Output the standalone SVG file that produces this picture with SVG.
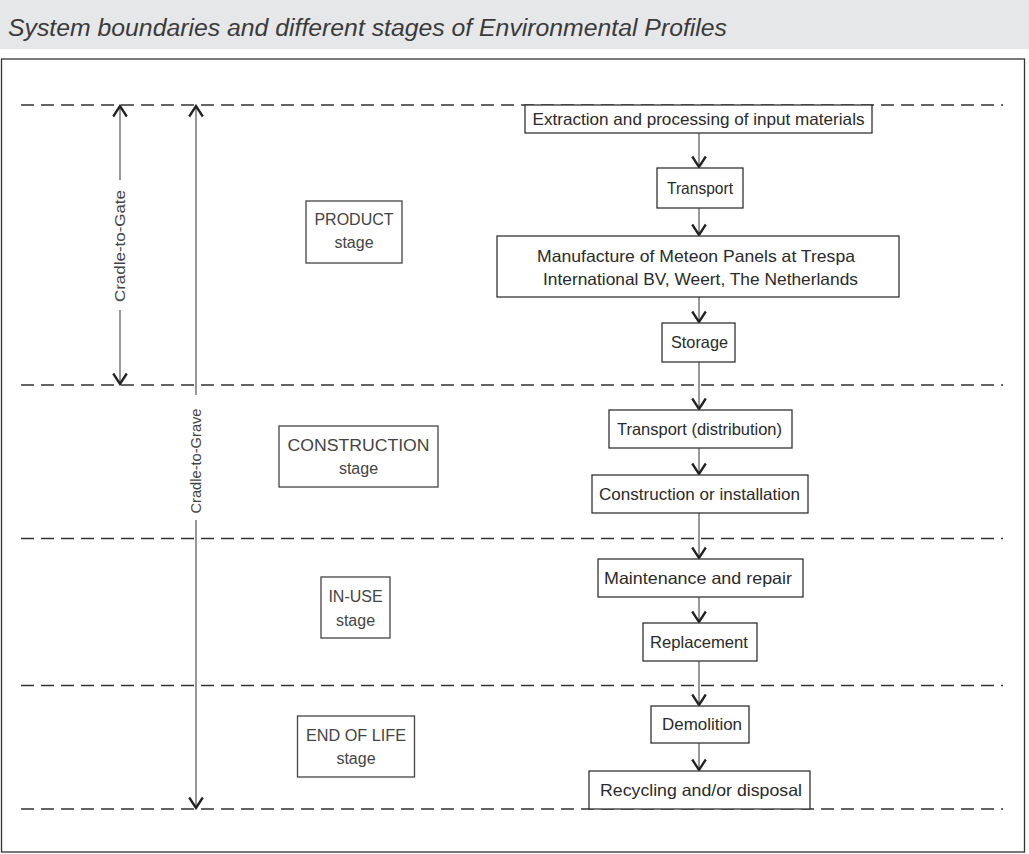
<svg xmlns="http://www.w3.org/2000/svg" width="1029" height="854" viewBox="0 0 1029 854">
<style>
.box{fill:#fff;stroke:#333;stroke-width:1.3}
.stg{fill:#fff;stroke:#444;stroke-width:1.3}
.t{font-family:"Liberation Sans",Arial,sans-serif;font-size:16.5px;fill:#2a2a2a;text-anchor:middle}
.st{font-family:"Liberation Sans",Arial,sans-serif;font-size:16px;fill:#444;text-anchor:middle}
.dash{stroke:#333;stroke-width:1.3;stroke-dasharray:13 7;fill:none}
.conn{stroke:#444;stroke-width:1.1;fill:none}
.side{font-family:"Liberation Sans",Arial,sans-serif;font-size:14.5px;fill:#444;text-anchor:middle}
</style>
<defs>
<marker id="ah" viewBox="-12 -8 14 16" refX="0" refY="0" markerWidth="14" markerHeight="16" markerUnits="userSpaceOnUse" orient="auto-start-reverse">
<path d="M-10.5,-6.8 L0,0 L-10.5,6.8" fill="none" stroke="#222" stroke-width="2.3"/>
</marker>
</defs>
<rect x="0" y="0" width="1029" height="49" fill="#e6e7e8"/>
<text x="8" y="36" font-family="'Liberation Sans',Arial,sans-serif" font-style="italic" font-size="23" fill="#3a3a3a" textLength="719" lengthAdjust="spacingAndGlyphs">System boundaries and different stages of Environmental Profiles</text>
<rect x="1.5" y="59" width="1023" height="793" fill="#fff" stroke="#333" stroke-width="1.3"/>
<g id="boundaries">
<line class="dash" x1="21" y1="105" x2="1003" y2="105"/>
<line class="dash" x1="21" y1="385" x2="1003" y2="385"/>
<line class="dash" x1="21" y1="538.5" x2="1003" y2="538.5"/>
<line class="dash" x1="21" y1="685.5" x2="1003" y2="685.5"/>
<line class="dash" x1="21" y1="809" x2="1003" y2="809"/>
</g>
<g id="cradle-to-gate">
<line class="conn" x1="120" y1="180" x2="120" y2="106" marker-end="url(#ah)"/>
<line class="conn" x1="120" y1="310" x2="120" y2="384" marker-end="url(#ah)"/>
<text class="side" transform="translate(125,246) rotate(-90)" textLength="112" lengthAdjust="spacingAndGlyphs">Cradle-to-Gate</text>
</g>
<g id="cradle-to-grave">
<line class="conn" x1="196" y1="395" x2="196" y2="106" marker-end="url(#ah)"/>
<line class="conn" x1="196" y1="520" x2="196" y2="808" marker-end="url(#ah)"/>
<text class="side" transform="translate(201,461) rotate(-90)" textLength="105" lengthAdjust="spacingAndGlyphs">Cradle-to-Grave</text>
</g>
<g id="connectors">
<line class="conn" x1="699" y1="133" x2="699" y2="167" marker-end="url(#ah)"/>
<line class="conn" x1="699" y1="208" x2="699" y2="235" marker-end="url(#ah)"/>
<line class="conn" x1="699" y1="297" x2="699" y2="322" marker-end="url(#ah)"/>
<line class="conn" x1="699" y1="362" x2="699" y2="409" marker-end="url(#ah)"/>
<line class="conn" x1="699" y1="448" x2="699" y2="474" marker-end="url(#ah)"/>
<line class="conn" x1="699" y1="513" x2="699" y2="558" marker-end="url(#ah)"/>
<line class="conn" x1="699" y1="597" x2="699" y2="622" marker-end="url(#ah)"/>
<line class="conn" x1="699" y1="661" x2="699" y2="705" marker-end="url(#ah)"/>
<line class="conn" x1="699" y1="743" x2="699" y2="770" marker-end="url(#ah)"/>
</g>
<g id="stage-product">
<rect class="stg" x="306" y="201" width="96" height="62"/>
<text class="st" x="354" y="225">PRODUCT</text>
<text class="st" x="354" y="248">stage</text>
</g>
<g id="stage-construction">
<rect class="stg" x="279" y="426" width="159" height="61"/>
<text class="st" x="358.5" y="451" textLength="142" lengthAdjust="spacingAndGlyphs">CONSTRUCTION</text>
<text class="st" x="358.5" y="474">stage</text>
</g>
<g id="stage-inuse">
<rect class="stg" x="321" y="577" width="69" height="61"/>
<text class="st" x="355.5" y="602">IN-USE</text>
<text class="st" x="355.5" y="626">stage</text>
</g>
<g id="stage-eol">
<rect class="stg" x="297.5" y="716" width="117" height="61"/>
<text class="st" x="356" y="741" textLength="100" lengthAdjust="spacingAndGlyphs">END OF LIFE</text>
<text class="st" x="356" y="764">stage</text>
</g>
<g id="extraction">
<rect class="box" x="525" y="105" width="347" height="28"/>
<text class="t" x="698.5" y="125" textLength="332" lengthAdjust="spacingAndGlyphs">Extraction and processing of input materials</text>
</g>
<g id="transport">
<rect class="box" x="657" y="168" width="86" height="40"/>
<text class="t" x="700" y="194" textLength="66" lengthAdjust="spacingAndGlyphs">Transport</text>
</g>
<g id="manufacture">
<rect class="box" x="497" y="236" width="402" height="61"/>
<text class="t" x="696" y="262" textLength="318" lengthAdjust="spacingAndGlyphs">Manufacture of Meteon Panels at Trespa</text>
<text class="t" x="700.5" y="285" textLength="315" lengthAdjust="spacingAndGlyphs">International BV, Weert, The Netherlands</text>
</g>
<g id="storage">
<rect class="box" x="662" y="323" width="73" height="39"/>
<text class="t" x="699.5" y="348" textLength="57" lengthAdjust="spacingAndGlyphs">Storage</text>
</g>
<g id="transport-distribution">
<rect class="box" x="609" y="410" width="183" height="38"/>
<text class="t" x="699.5" y="435" textLength="165" lengthAdjust="spacingAndGlyphs">Transport (distribution)</text>
</g>
<g id="construction">
<rect class="box" x="592" y="475" width="216" height="38"/>
<text class="t" x="699.5" y="500" textLength="201" lengthAdjust="spacingAndGlyphs">Construction or installation</text>
</g>
<g id="maintenance">
<rect class="box" x="598" y="559" width="205" height="38"/>
<text class="t" x="698" y="584" textLength="188" lengthAdjust="spacingAndGlyphs">Maintenance and repair</text>
</g>
<g id="replacement">
<rect class="box" x="643" y="623" width="114" height="38"/>
<text class="t" x="699" y="648" textLength="98" lengthAdjust="spacingAndGlyphs">Replacement</text>
</g>
<g id="demolition">
<rect class="box" x="651" y="706" width="98" height="37"/>
<text class="t" x="702" y="730" textLength="80" lengthAdjust="spacingAndGlyphs">Demolition</text>
</g>
<g id="recycling">
<rect class="box" x="589" y="771" width="221" height="38"/>
<text class="t" x="701" y="796" textLength="202" lengthAdjust="spacingAndGlyphs">Recycling and/or disposal</text>
</g>
</svg>
